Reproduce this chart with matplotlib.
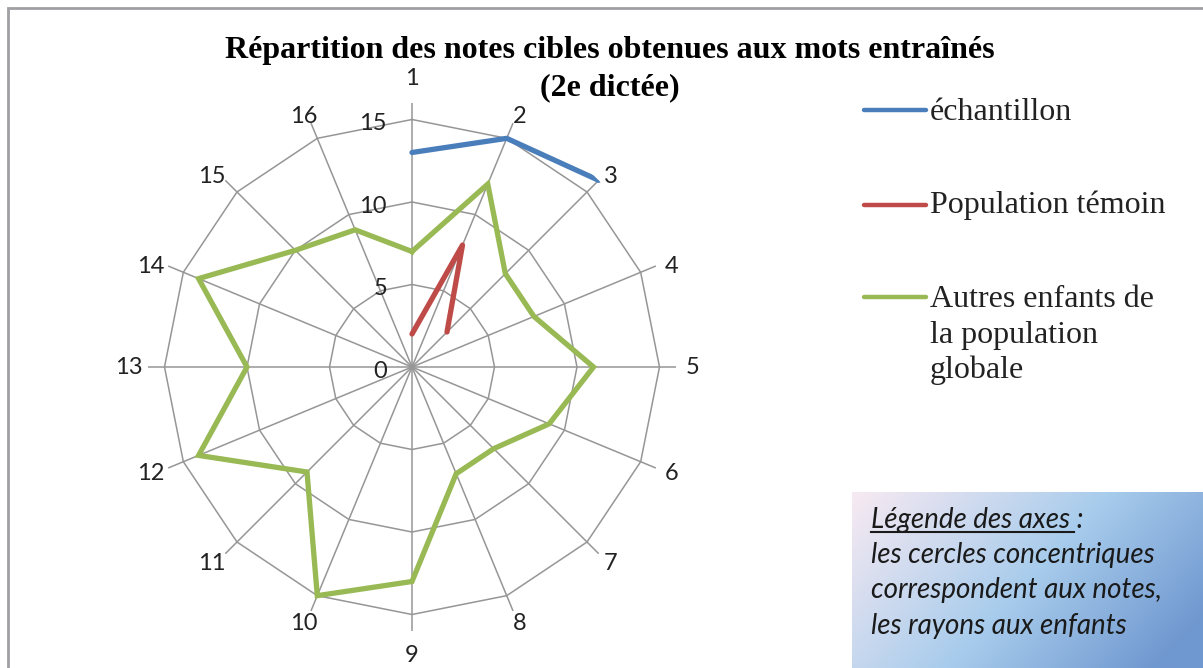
import numpy as np
import matplotlib
matplotlib.use('Agg')
import matplotlib.pyplot as plt
from matplotlib.lines import Line2D
from matplotlib.patches import Rectangle

# axes 1..16 (children), values = notes
categories = [str(i) for i in range(1, 17)]
echantillon = [13, 15, 16]
temoin = [2, 8, 3]
autres = [7, 12, 8, 8, 11, 9, 7, 7, 13, 15, 9, 14, 10, 14, 10, 9]
ring_values = [5, 10, 15]
ring_labels = ['0', '5', '10', '15']
r_max = 16

series_names = ['échantillon', 'Population témoin', 'Autres enfants de\nla population\nglobale']
colors = ['#4a7ebb', '#be4b48', '#98b954']

fig = plt.figure(figsize=(12.03, 6.68), dpi=100)

# chart frame
fig.add_artist(Rectangle((8 / 1203, -0.1), 1.2, (668 - 8) / 668 + 0.1,
                         transform=fig.transFigure, fill=False,
                         edgecolor='#a0a0a4', linewidth=2))

ax = fig.add_axes([148 / 1203, 37 / 668, 528 / 1203, 528 / 668], projection='polar')
ax.set_theta_zero_location('N')
ax.set_theta_direction(-1)
ax.set_ylim(0, r_max)
ax.grid(False)
ax.spines['polar'].set_visible(False)
ax.set_xticks([])
ax.set_yticks([])
ax.patch.set_alpha(0)

n = len(categories)
theta = np.arange(n) * 2 * np.pi / n

# polygonal grid
th_closed = np.append(theta, theta[0])
for rv in ring_values:
    ax.plot(th_closed, [rv] * (n + 1), color='#969696', lw=1.1, zorder=1)
for t in theta:
    ax.plot([t, t], [0, r_max], color='#969696', lw=1.1, zorder=1)

# radial tick labels
for i, lab in enumerate(ring_labels):
    ax.annotate(lab, (0, i * 5), xytext=(-18, -3), textcoords='offset points',
                ha='right', va='center', fontsize=17, family='Lato', color='#222222')

# category labels
for t, lab in zip(theta, categories):
    c, s = np.cos(t), np.sin(t)
    dx = dy = 0
    if abs(c) > 0.99:
        dy = 10 * np.sign(c)
    elif c > 0.1:
        dy = -6
    if abs(s) > 0.1:
        dx = (5 if len(lab) > 1 else 3) * np.sign(s) * abs(s)
    ax.annotate(lab, (t, 16.85), xytext=(dx * 0.72, dy * 0.72), textcoords='offset points',
                ha='center', va='center', fontsize=17, family='Lato', color='#222222',
                annotation_clip=False)

# series
ax.plot(theta[:len(echantillon)], echantillon, color=colors[0], lw=3.8,
        solid_capstyle='round', zorder=3)
ax.plot(theta[:len(temoin)], temoin, color=colors[1], lw=3.8,
        solid_capstyle='round', zorder=3)
ax.plot(th_closed, autres + autres[:1], color=colors[2], lw=3.8,
        solid_joinstyle='miter', zorder=3)

# title
fig.text(610 / 1203, 1 - 58 / 668, 'Répartition des notes cibles obtenues aux mots entraînés',
         ha='center', va='baseline', fontsize=23, fontweight='bold', family='Liberation Serif')
fig.text(610 / 1203, 1 - 95 / 668, '(2e dictée)',
         ha='center', va='baseline', fontsize=23, fontweight='bold', family='Liberation Serif')

# legend (manual)
leg_y = [110, 205, 297]
leg_base = [[120], [213], [307, 343, 378]]
for yy, name, c, bases in zip(leg_y, series_names, colors, leg_base):
    fig.add_artist(Line2D([864 / 1203, 926 / 1203], [1 - yy / 668] * 2,
                          color=c, lw=3.2, solid_capstyle='round',
                          transform=fig.transFigure))
    for part, b in zip(name.split('\n'), bases):
        fig.text(930 / 1203, 1 - b / 668, part, ha='left', va='baseline',
                 fontsize=23, family='Liberation Serif', color='#222222')

# annotation box with gradient
bx = fig.add_axes([852 / 1203, 0, (1203 - 852) / 1203, (668 - 492) / 668])
h, w = 100, 200
xx, yy2 = np.meshgrid(np.linspace(0, 1, w), np.linspace(0, 1, h))
s = np.clip(0.75 * xx + 0.35 * yy2, 0, 1)
c0 = np.array([248, 234, 242]) / 255
c1 = np.array([168, 204, 236]) / 255
c2 = np.array([112, 152, 208]) / 255
img = np.where(s[..., None] < 0.55,
               c0 + (c1 - c0) * (s[..., None] / 0.55),
               c1 + (c2 - c1) * ((s[..., None] - 0.55) / 0.45))
bx.imshow(img, aspect='auto', extent=[0, 1, 0, 1], origin='upper')
bx.set_xlim(0, 1)
bx.set_ylim(0, 1)
bx.axis('off')

box_lines = ['Légende des axes :', 'les cercles concentriques',
             'correspondent aux notes,', 'les rayons aux enfants']
box_base = [528, 563, 598, 634]
for i, line in enumerate(box_lines):
    t = fig.text(871 / 1203, 1 - box_base[i] / 668, line, ha='left', va='baseline',
                 fontsize=20, style='italic', family='Lato', color='#1a1a1a')
    if i == 0:
        fig.canvas.draw()
        bb = t.get_window_extent()
        fig.add_artist(Line2D([bb.x0 / 1203, (bb.x1 - 10) / 1203],
                              [(668 - box_base[0] - 4) / 668] * 2, color='#1a1a1a', lw=1.5,
                              transform=fig.transFigure))

fig.savefig('out.png', dpi=100)
